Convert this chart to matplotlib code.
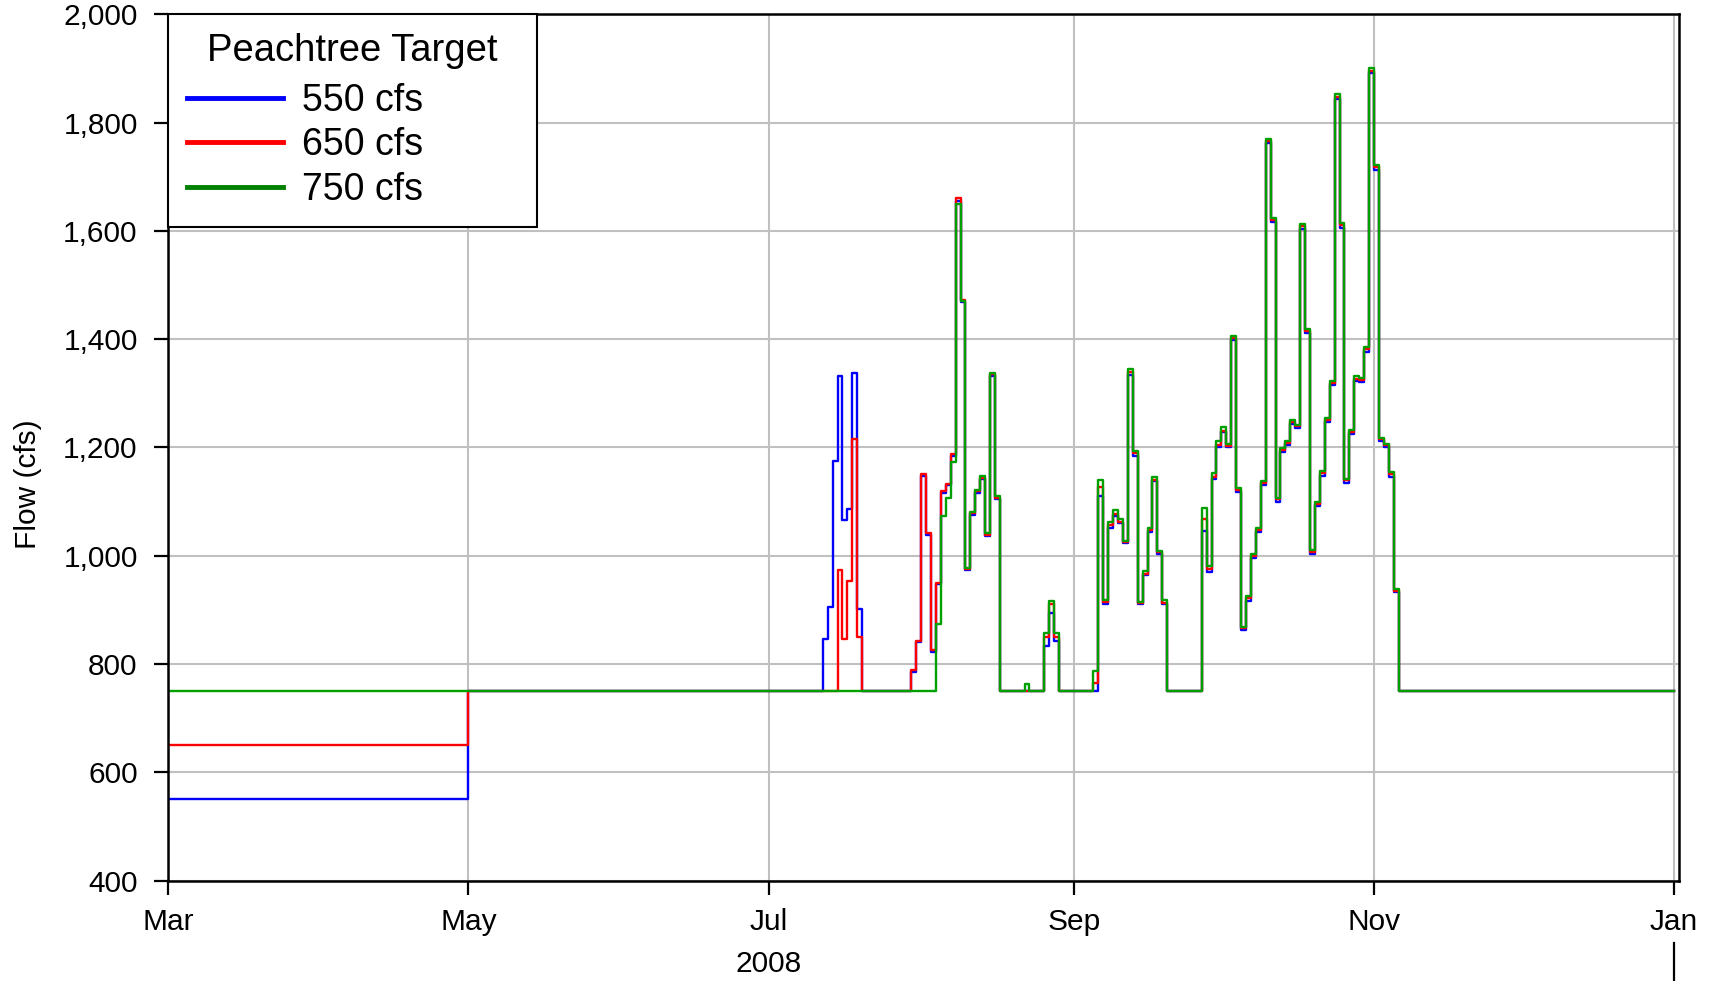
import pandas as pd
import matplotlib
matplotlib.use('Agg')
import matplotlib.pyplot as plt
import matplotlib.dates as mdates
from matplotlib.lines import Line2D
from matplotlib.transforms import blended_transform_factory

plt.rcParams['font.family'] = ['Liberation Sans', 'DejaVu Sans']

# --- data ---
start = '2008-03-01'
end = '2009-01-01'
early_end = '2008-04-30'
base_flow = 750

labels = ['550 cfs', '650 cfs', '750 cfs']
colors = ['#0000ff', '#ff0000', '#00a000']
legend_colors = ['#0000ff', '#ff0000', '#008000']
early_flow = [550, 650, 750]

# July bursts (daily values)
blue_jul_start = '2008-07-12'
blue_jul = [847, 906, 1174, 1332, 1065, 1086, 1337, 902]
red_jul_start = '2008-07-15'
red_jul = [973, 847, 954, 1215, 850]

# Jul 30 - Nov 6 daily values
late_start = '2008-07-30'
blue_late = [786, 840, 1147, 1038, 822, 947, 1116, 1130, 1184, 1655,
             1468, 973, 1076, 1116, 1141, 1036, 1332, 1104, 750, 750,
             750, 750, 750, 750, 750, 750, 750, 833, 895, 843,
             750, 750, 750, 750, 750, 750, 750, 750, 1110, 910,
             1052, 1073, 1060, 1023, 1334, 1185, 910, 964, 1044, 1137,
             1003, 910, 750, 750, 750, 750, 750, 750, 750, 1046,
             969, 1141, 1201, 1228, 1200, 1398, 1117, 862, 917, 996,
             1044, 1130, 1762, 1616, 1100, 1191, 1204, 1243, 1235, 1604,
             1411, 1003, 1092, 1148, 1246, 1315, 1844, 1606, 1135, 1225,
             1323, 1321, 1377, 1892, 1713, 1211, 1200, 1146, 932]
red_late = [788, 843, 1150, 1041, 825, 950, 1119, 1133, 1187, 1660,
            1472, 976, 1079, 1119, 1144, 1039, 1335, 1107, 750, 750,
            750, 750, 750, 750, 750, 750, 750, 850, 910, 850,
            750, 750, 750, 750, 750, 750, 750, 765, 1127, 915,
            1056, 1077, 1062, 1025, 1339, 1190, 912, 967, 1047, 1140,
            1006, 912, 750, 750, 750, 750, 750, 750, 750, 1068,
            975, 1146, 1205, 1231, 1203, 1402, 1121, 866, 921, 1000,
            1048, 1134, 1766, 1620, 1104, 1195, 1208, 1247, 1239, 1608,
            1415, 1007, 1096, 1152, 1250, 1319, 1848, 1610, 1139, 1229,
            1327, 1325, 1381, 1896, 1717, 1215, 1204, 1150, 935]
green_late = [750, 750, 750, 750, 750, 874, 1074, 1107, 1173, 1649,
              1470, 978, 1081, 1122, 1147, 1041, 1338, 1110, 750, 750,
              750, 750, 750, 763, 750, 750, 750, 857, 916, 857,
              750, 750, 750, 750, 750, 750, 750, 787, 1139, 918,
              1062, 1084, 1068, 1028, 1345, 1194, 914, 971, 1052, 1145,
              1009, 918, 750, 750, 750, 750, 750, 750, 750, 1088,
              981, 1152, 1211, 1237, 1207, 1406, 1125, 869, 925, 1003,
              1052, 1138, 1770, 1624, 1107, 1198, 1212, 1251, 1242, 1612,
              1419, 1010, 1099, 1156, 1254, 1322, 1852, 1614, 1142, 1232,
              1331, 1329, 1385, 1900, 1721, 1218, 1207, 1154, 938]

days = pd.date_range(start, end, freq='D')


def build(early, bursts):
    s = pd.Series(float(base_flow), index=days)
    s[:early_end] = early
    for b_start, vals in bursts:
        i = days.get_loc(pd.Timestamp(b_start))
        s.iloc[i:i + len(vals)] = vals
    return s


series = [
    build(early_flow[0], [(blue_jul_start, blue_jul), (late_start, blue_late)]),
    build(early_flow[1], [(red_jul_start, red_jul), (late_start, red_late)]),
    build(early_flow[2], [(late_start, green_late)]),
]

# --- plot ---
fig = plt.figure(figsize=(17.13, 9.81), dpi=100)
ax = fig.add_axes([0.0982, 0.1024, 0.8820, 0.8831])

for s, c in zip(series, colors):
    ax.plot(s.index, s.values, drawstyle='steps-post', color=c, lw=1.7)

ax.set_xlim(pd.Timestamp(start), pd.Timestamp('2009-01-02'))
ax.set_ylim(400, 2000)
ax.set_yticks(range(400, 2001, 200))
ax.yaxis.set_major_formatter(matplotlib.ticker.StrMethodFormatter('{x:,.0f}'))
ax.xaxis.set_major_locator(mdates.MonthLocator(bymonth=[1, 3, 5, 7, 9, 11]))
ax.xaxis.set_major_formatter(mdates.DateFormatter('%b'))

ax.grid(True, color='#c0c0c0', lw=1.5)
ax.set_axisbelow(True)
for sp in ax.spines.values():
    sp.set_linewidth(1.8)
    sp.set_color('black')
ax.tick_params(axis='both', labelsize=21.5, length=10, width=1.6, direction='out')
ax.tick_params(axis='y', pad=12)
ax.tick_params(axis='x', pad=10)

fig.text(0.0163, 0.5066, 'Flow (cfs)', rotation=90, ha='center', va='center', fontsize=21.5)

# year label and separator under the month labels
trans = blended_transform_factory(ax.transData, fig.transFigure)
ax.text(pd.Timestamp('2008-07-01'), 0.017, '2008', transform=trans,
        ha='center', va='center', fontsize=21.5)
ax.plot([pd.Timestamp(end)] * 2, [0.0, 0.039], transform=trans,
        color='black', lw=1.6, clip_on=False)

handles = [Line2D([], [], color=c, lw=3.5) for c in legend_colors]
leg = ax.legend(handles, labels, title='Peachtree Target', loc='upper left',
                bbox_to_anchor=(0, 0, 0.2439, 1), mode='expand', borderaxespad=0,
                fontsize=27, title_fontsize=27.5, fancybox=False, framealpha=1,
                edgecolor='black', handlelength=2.55, handletextpad=0.52,
                labelspacing=0.23, borderpad=0.5)
leg.get_frame().set_linewidth(1.5)
leg._legend_box.sep = 10  # a bit more room under the title

fig.savefig('out.png', dpi=100)
